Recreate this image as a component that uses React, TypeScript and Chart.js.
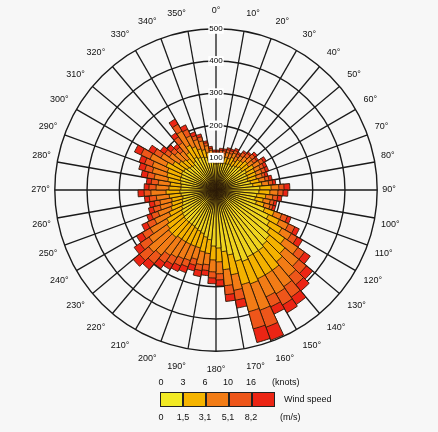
import React, { useEffect, useRef } from "react";
import { Chart, registerables } from "chart.js";

Chart.register(...registerables);

// Wind directions (degrees): each bar covers [d, d+5)
const directionsDeg = [
  0, 5, 10, 15, 20, 25, 30, 35, 40, 45, 50, 55, 60, 65, 70, 75, 80, 85,
  90, 95, 100, 105, 110, 115, 120, 125, 130, 135, 140, 145, 150, 155, 160, 165, 170, 175,
  180, 185, 190, 195, 200, 205, 210, 215, 220, 225, 230, 235, 240, 245, 250, 255, 260, 265,
  270, 275, 280, 285, 290, 295, 300, 305, 310, 315, 320, 325, 330, 335, 340, 345, 350, 355,
];

// Axis (spoke) labels
const axisLabels = [
  "0°", "10°", "20°", "30°", "40°", "50°", "60°", "70°", "80°", "90°", "100°", "110°",
  "120°", "130°", "140°", "150°", "160°", "170°", "180°", "190°", "200°", "210°", "220°", "230°",
  "240°", "250°", "260°", "270°", "280°", "290°", "300°", "310°", "320°", "330°", "340°", "350°",
];

// Cumulative counts per direction, by wind speed class upper bound
const upTo1_5 = [
  81, 84, 84, 87, 87, 90, 87, 93, 96, 102, 99, 109, 105, 105, 102, 109, 115, 136,
  133, 127, 124, 130, 161, 180, 192, 205, 217, 223, 229, 229, 229, 236, 229, 205, 192, 180,
  174, 155, 149, 140, 136, 133, 130, 130, 130, 130, 127, 124, 118, 112, 109, 105, 109, 112,
  109, 109, 112, 115, 115, 118, 115, 109, 105, 102, 109, 118, 112, 109, 105, 96, 87, 81,
];
const upTo3_1 = [
  96, 102, 102, 105, 105, 112, 105, 115, 118, 127, 124, 136, 133, 133, 130, 136, 143, 171,
  167, 155, 149, 155, 192, 217, 236, 260, 279, 291, 304, 304, 304, 310, 304, 267, 248, 223,
  217, 198, 195, 186, 186, 186, 186, 186, 192, 192, 186, 177, 161, 149, 143, 140, 146, 155,
  146, 143, 152, 158, 161, 171, 155, 140, 133, 127, 143, 161, 149, 136, 130, 118, 105, 96,
];
const upTo5_1 = [
  109, 115, 115, 121, 121, 127, 121, 130, 136, 146, 143, 158, 152, 152, 149, 155, 164, 195,
  192, 177, 171, 174, 217, 248, 270, 310, 335, 350, 366, 372, 366, 397, 391, 316, 298, 260,
  254, 233, 236, 223, 233, 236, 242, 248, 264, 273, 254, 236, 211, 192, 180, 177, 186, 202,
  186, 180, 195, 205, 211, 226, 198, 177, 167, 158, 180, 211, 186, 167, 158, 140, 124, 109,
];
const upTo8_2 = [
  118, 124, 124, 130, 130, 136, 130, 143, 149, 158, 155, 171, 164, 164, 158, 167, 177, 211,
  208, 192, 183, 183, 236, 270, 291, 335, 366, 384, 406, 412, 400, 453, 446, 347, 326, 279,
  273, 251, 254, 242, 254, 260, 267, 276, 298, 310, 288, 264, 236, 214, 202, 195, 208, 223,
  208, 202, 217, 229, 236, 257, 223, 195, 183, 174, 202, 236, 208, 180, 171, 149, 130, 118,
];
const totalAll = [
  124, 130, 130, 136, 136, 143, 136, 149, 155, 167, 161, 180, 174, 174, 167, 177, 186, 229,
  223, 205, 192, 192, 248, 285, 310, 357, 391, 409, 434, 440, 425, 496, 490, 372, 347, 298,
  291, 267, 273, 260, 273, 279, 285, 298, 322, 335, 310, 285, 254, 229, 217, 211, 223, 242,
  223, 217, 236, 248, 254, 279, 242, 211, 198, 186, 217, 254, 223, 192, 180, 155, 136, 124,
];

const speedClasses = ["0–1,5", "1,5–3,1", "3,1–5,1", "5,1–8,2", "> 8,2"];
const barColors = ["#eed41e", "#f4b200", "#f27c16", "#ee561a", "#ec2514"];
const legendColors = ["#f2ea24", "#f5b400", "#f27c16", "#ee561a", "#ec2514"];
const knotTicks = ["0", "3", "6", "10", "16"];
const msTicks = ["0", "1,5", "3,1", "5,1", "8,2"];

export default function App() {
  const canvasRef = useRef<HTMLCanvasElement | null>(null);

  useEffect(() => {
    if (!canvasRef.current) return;
    const series = [upTo1_5, upTo3_1, upTo5_1, upTo8_2, totalAll];
    const chart = new Chart(canvasRef.current, {
      type: "polarArea",
      data: {
        labels: directionsDeg.map((d) => `${d}°`),
        datasets: series.map((arr, k) => ({
          label: speedClasses[k],
          data: arr,
          backgroundColor: barColors[k],
          borderColor: "#2a1a08",
          borderWidth: 0.9,
        })) as any,
      },
      options: {
        animation: false,
        responsive: true,
        maintainAspectRatio: false,
        layout: { padding: { left: 0, right: 5, top: 6, bottom: 4 } },
        plugins: { legend: { display: false }, tooltip: { enabled: false } },
        scales: {
          r: {
            labels: axisLabels,
            min: 0,
            max: 500,
            startAngle: 0,
            ticks: {
              stepSize: 100,
              z: 1,
              color: "#000",
              font: { family: "Liberation Sans", size: 8 },
              backdropColor: "#ffffff",
              backdropPadding: 1,
              showLabelBackdrop: true,
            },
            grid: { circular: true, color: "#1a1a1a", lineWidth: 1.4 },
            angleLines: { display: true, color: "#1a1a1a", lineWidth: 1.3 },
            pointLabels: {
              display: true,
              color: "#111",
              font: { family: "Liberation Sans", size: 9 },
              padding: (ctx: any) => 8 * Math.abs(Math.cos((ctx.index * 10 * Math.PI) / 180)),
            },
          } as any,
        },
      },
    });
    return () => chart.destroy();
  }, []);

  const boundaries = [161, 183, 205, 228, 251];
  return (
    <div
      style={{
        position: "fixed",
        left: 0,
        top: 0,
        width: 438,
        height: 432,
        background: "#f7f7f7",
        fontFamily: "Liberation Sans, Arial, sans-serif",
        color: "#111",
      }}
    >
      <div style={{ position: "absolute", left: 0, top: 0, width: 438, height: 380 }}>
        <canvas ref={canvasRef} />
      </div>
      {knotTicks.map((t, i) => (
        <div key={"k" + i} style={{ position: "absolute", left: boundaries[i] - 10, width: 20, top: 377, fontSize: 9, textAlign: "center" }}>
          {t}
        </div>
      ))}
      <div style={{ position: "absolute", left: 272, top: 377, fontSize: 9 }}>(knots)</div>
      {legendColors.map((c, i) => (
        <div
          key={"c" + i}
          style={{
            position: "absolute",
            left: 160 + i * 23,
            top: 392,
            width: 23,
            height: 15,
            background: c,
            boxSizing: "border-box",
            border: "1px solid #222",
          }}
        />
      ))}
      <div style={{ position: "absolute", left: 284, top: 394, fontSize: 9 }}>Wind speed</div>
      {msTicks.map((t, i) => (
        <div key={"m" + i} style={{ position: "absolute", left: boundaries[i] - 10, width: 20, top: 412, fontSize: 9, textAlign: "center" }}>
          {t}
        </div>
      ))}
      <div style={{ position: "absolute", left: 280, top: 412, fontSize: 9 }}>(m/s)</div>
    </div>
  );
}
